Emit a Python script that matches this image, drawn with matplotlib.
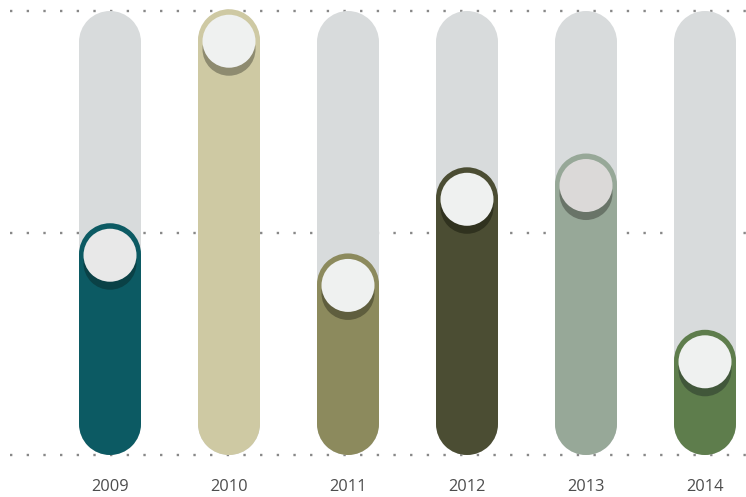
import matplotlib.pyplot as plt
from matplotlib.patches import Ellipse, Rectangle

years = ["2009", "2010", "2011", "2012", "2013", "2014"]
values = [52.2, 100.4, 45.4, 64.8, 67.9, 28.2]
grid_values = [0, 50, 100]

bar_colors = ["#0c5a63", "#cec9a3", "#8c8a5d", "#4b4d33", "#97a898", "#5e7d4c"]
shadow_colors = ["#0a4146", "#8e8b70", "#5f5e3e", "#30321f", "#697468", "#41573a"]
knob_colors = ["#e8e8e8", "#eff1f0", "#eff1f0", "#eff1f0", "#dbd9d8", "#eff1f0"]
track_color = "#d8dbdc"

W, H, DPI = 746, 497, 100
px_x = 119.0      # pixels per category step
px_y = 4.44       # pixels per value unit
x0_px = 110.0     # pixel of first category
y0_px = 455.0     # pixel (from top) of value 0

fig = plt.figure(figsize=(W / DPI, H / DPI), dpi=DPI)
ax = fig.add_axes([0, 0, 1, 1])
ax.set_xlim(-x0_px / px_x, (W - x0_px) / px_x)
ax.set_ylim(-(H - y0_px) / px_y, y0_px / px_y)
ax.axis("off")

# dotted guide lines behind the bars
for g in grid_values:
    ax.plot([(10 - x0_px) / px_x, (W - x0_px) / px_x], [g, g], color="#888888",
            lw=1.7, linestyle=(0, (1, 6.06)), dash_capstyle="butt", zorder=1)

half_w = 31 / px_x
cap_ry = 31 / px_y
knob_rx = 26.5 / px_x
knob_ry = 26.5 / px_y
knob_drop = 32 / px_y
shadow_drop = 8 / px_y


def capsule(x, top, color, z):
    ax.add_patch(Rectangle((x - half_w, cap_ry), 2 * half_w, top - 2 * cap_ry,
                           color=color, lw=0, zorder=z))
    ax.add_patch(Ellipse((x, top - cap_ry), 2 * half_w, 2 * cap_ry, color=color, lw=0, zorder=z))
    ax.add_patch(Ellipse((x, cap_ry), 2 * half_w, 2 * cap_ry, color=color, lw=0, zorder=z))


for i, (year, v) in enumerate(zip(years, values)):
    capsule(i, 100, track_color, 2)
    capsule(i, v, bar_colors[i], 3)
    cy = v - knob_drop
    ax.add_patch(Ellipse((i, cy - shadow_drop), 2 * knob_rx, 2 * knob_ry,
                         color=shadow_colors[i], lw=0, zorder=4))
    ax.add_patch(Ellipse((i, cy), 2 * knob_rx, 2 * knob_ry,
                         color=knob_colors[i], lw=0, zorder=5))
    ax.text(i, (y0_px - 487) / px_y, year, ha="center", va="center",
            fontsize=11.8, color="#4d4d4d", family="Open Sans")

fig.savefig("out.png", dpi=DPI)
